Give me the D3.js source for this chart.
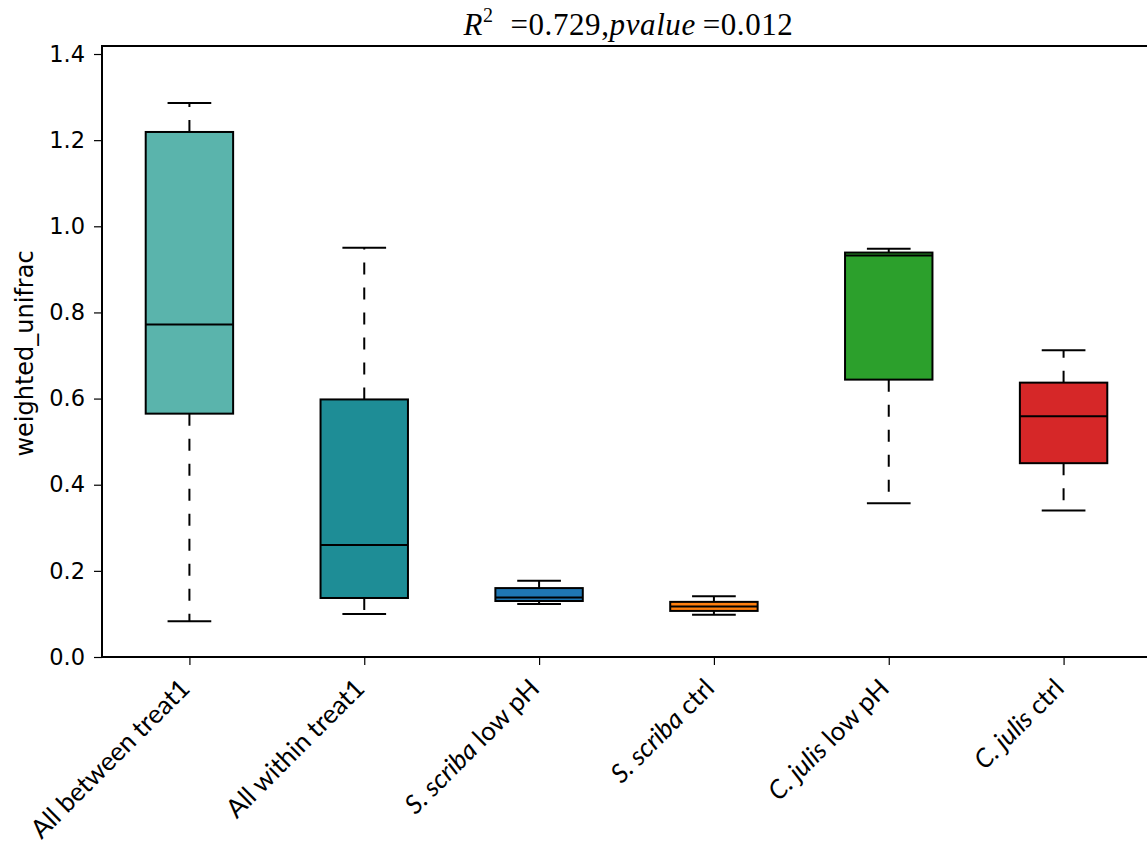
<!DOCTYPE html>
<html>
<head>
<meta charset="utf-8">
<script src="https://cdn.jsdelivr.net/npm/d3@7"></script>
<style>
  html, body { margin: 0; padding: 0; background: #fff; }
  svg { display: block; }
</style>
</head>
<body>
<svg id="chart" width="1147" height="850"></svg>
<script>
// Group names (italic part, plain part) for each box
const groups = [
  { it: "", rest: "All between treat1" },
  { it: "", rest: "All within treat1" },
  { it: "S. scriba", rest: " low pH" },
  { it: "S. scriba", rest: " ctrl" },
  { it: "C. julis", rest: " low pH" },
  { it: "C. julis", rest: " ctrl" }
];
// Five-number summaries per group
const whiskerLow  = [0.083, 0.100, 0.123, 0.098, 0.357, 0.340];
const quartile1   = [0.565, 0.137, 0.130, 0.107, 0.644, 0.450];
const medians     = [0.772, 0.260, 0.138, 0.117, 0.932, 0.559];
const quartile3   = [1.219, 0.598, 0.160, 0.128, 0.939, 0.637];
const whiskerHigh = [1.286, 0.950, 0.177, 0.141, 0.948, 0.712];
const boxColors   = ["#5ab4ac", "#1e8d96", "#1f77b4", "#ff7f0e", "#2ca02c", "#d62728"];
const yTicks      = [0.0, 0.2, 0.4, 0.6, 0.8, 1.0, 1.2, 1.4];

const rows = groups.map((g, i) => ({
  i, g, lo: whiskerLow[i], q1: quartile1[i], med: medians[i],
  q3: quartile3[i], hi: whiskerHigh[i], color: boxColors[i]
}));

const svg = d3.select("#chart");
const plotL = 102, plotR = 1151, plotT = 46, plotB = 657;

const x = d3.scaleLinear().domain([0.5, 6.5]).range([plotL, plotR]);
const y = d3.scaleLinear().domain([0, 1.4186]).range([plotB, plotT]);

const boxW = x(1.5) - x(1);    // half a category wide
const capW = boxW / 2;

const g = svg.append("g");

// whiskers (dashed), drawn outward from the box edges
const wh = g.append("g").attr("stroke", "#000").attr("stroke-width", 2)
  .attr("stroke-dasharray", "12,13").attr("fill", "none");
rows.forEach(d => {
  wh.append("line").attr("x1", x(d.i + 1)).attr("x2", x(d.i + 1))
    .attr("y1", y(d.q3)).attr("y2", y(d.hi));
  wh.append("line").attr("x1", x(d.i + 1)).attr("x2", x(d.i + 1))
    .attr("y1", y(d.q1)).attr("y2", y(d.lo));
});

// caps
const caps = g.append("g").attr("stroke", "#000").attr("stroke-width", 2);
rows.forEach(d => {
  [d.lo, d.hi].forEach(v => {
    caps.append("line")
      .attr("x1", x(d.i + 1) - capW / 2).attr("x2", x(d.i + 1) + capW / 2)
      .attr("y1", y(v)).attr("y2", y(v));
  });
});

// boxes
g.append("g").selectAll("rect").data(rows).join("rect")
  .attr("x", d => x(d.i + 1) - boxW / 2)
  .attr("width", boxW)
  .attr("y", d => y(d.q3))
  .attr("height", d => y(d.q1) - y(d.q3))
  .attr("fill", d => d.color)
  .attr("stroke", "#000").attr("stroke-width", 2);

// medians
g.append("g").selectAll("line").data(rows).join("line")
  .attr("x1", d => x(d.i + 1) - boxW / 2)
  .attr("x2", d => x(d.i + 1) + boxW / 2)
  .attr("y1", d => y(d.med)).attr("y2", d => y(d.med))
  .attr("stroke", "#000").attr("stroke-width", 2);

// frame
svg.append("rect").attr("x", plotL).attr("y", plotT)
  .attr("width", plotR - plotL).attr("height", plotB - plotT)
  .attr("fill", "none").attr("stroke", "#000").attr("stroke-width", 2);

// y axis
const yAxis = svg.append("g").attr("transform", `translate(${plotL},0)`)
  .call(d3.axisLeft(y).tickValues(yTicks).tickFormat(d3.format(".1f"))
    .tickSize(8).tickPadding(9));
yAxis.select(".domain").remove();
yAxis.selectAll(".tick line").attr("stroke", "#000").attr("stroke-width", 1.2);
yAxis.selectAll(".tick text").attr("font-family", "DejaVu Sans")
  .attr("font-size", 22.5).attr("fill", "#000");

// x axis ticks
const xAxis = svg.append("g").attr("transform", `translate(0,${plotB})`)
  .call(d3.axisBottom(x).tickValues(d3.range(1, 7)).tickFormat("").tickSize(8));
xAxis.select(".domain").remove();
xAxis.selectAll(".tick line").attr("stroke", "#000").attr("stroke-width", 1.2);

// rotated category labels, right-aligned under each tick
const lab = svg.append("g").selectAll("text").data(rows).join("text")
  .attr("transform", d => `translate(${x(d.i + 1) + 2},${plotB + 33}) rotate(-45)`)
  .attr("text-anchor", "end")
  .attr("font-family", "Lato, 'Open Sans', sans-serif")
  .attr("font-size", 26)
  .attr("fill", "#000");
lab.append("tspan").attr("font-style", "italic").text(d => d.g.it);
lab.append("tspan").text(d => d.g.rest);

// y axis title
svg.append("text")
  .attr("transform", `translate(33,${(plotT + plotB) / 2 + 2}) rotate(-90)`)
  .attr("text-anchor", "middle")
  .attr("font-family", "DejaVu Sans").attr("font-size", 24)
  .text("weighted_unifrac");

// title with math-style formatting
const title = svg.append("text")
  .attr("x", (plotL + plotR) / 2 + 2).attr("y", 35)
  .attr("text-anchor", "middle")
  .attr("font-family", "'Liberation Serif', serif").attr("font-size", 31)
  .attr("letter-spacing", 0.6);
title.append("tspan").attr("font-style", "italic").text("R");
title.append("tspan").attr("font-size", 20).attr("dy", -13).text("2");
title.append("tspan").attr("dy", 13).text("\u00a0\u00a0=0.729,");
title.append("tspan").attr("font-style", "italic").text("pvalue\u2009");
title.append("tspan").text("=0.012");
</script>
</body>
</html>
